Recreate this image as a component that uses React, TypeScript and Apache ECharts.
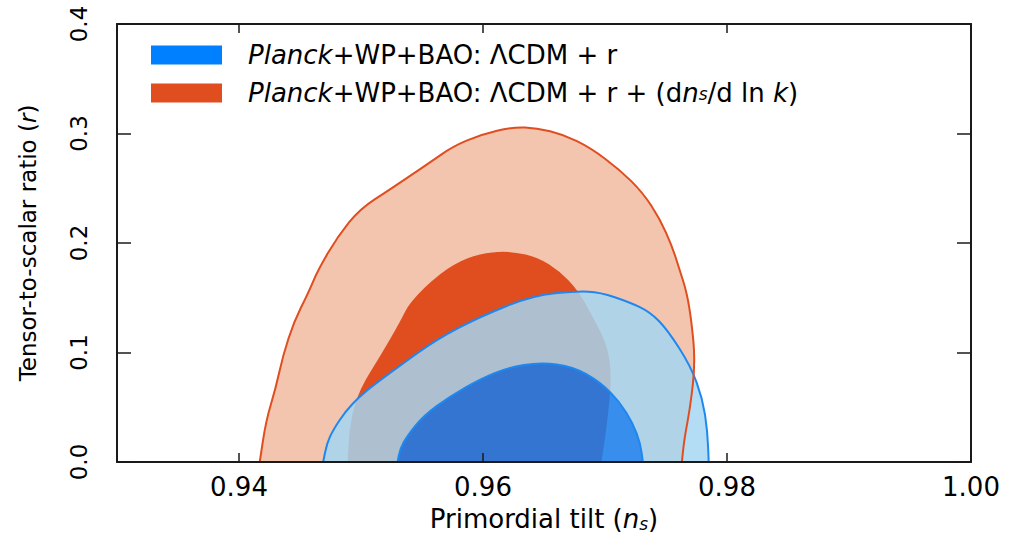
import React, { useEffect, useRef } from 'react';
import * as echarts from 'echarts';

// Axis ticks
const xTicks = [0.94, 0.96, 0.98, 1.0];
const xMin = 0.93;
const xMax = 1.0;
const yMin = 0;
const yMax = 0.4;
const yStep = 0.1;

// Contours [n_s, r]
const orange95: [number, number][] = [
  [0.9417, 0.0], [0.9422, 0.037], [0.943, 0.067], [0.9436, 0.097], [0.9445, 0.128],
  [0.9457, 0.155], [0.9465, 0.176], [0.9481, 0.206], [0.9499, 0.231], [0.9524, 0.249],
  [0.9557, 0.274], [0.9575, 0.288], [0.9598, 0.299], [0.9625, 0.306], [0.9644, 0.305],
  [0.9666, 0.299], [0.9688, 0.287], [0.9712, 0.267], [0.9731, 0.246], [0.9745, 0.222],
  [0.9755, 0.197], [0.9761, 0.176], [0.9767, 0.155], [0.9771, 0.128], [0.9774, 0.091],
  [0.977, 0.051], [0.9765, 0.021], [0.9763, 0.0],
];

const orange68: [number, number][] = [
  [0.9489, 0.0], [0.9491, 0.037], [0.9499, 0.067], [0.9516, 0.097], [0.9532, 0.128],
  [0.954, 0.146], [0.9565, 0.173], [0.9587, 0.187], [0.9608, 0.192], [0.9625, 0.192],
  [0.9645, 0.187], [0.9663, 0.174], [0.9677, 0.158], [0.969, 0.133], [0.9702, 0.106],
  [0.9705, 0.082], [0.9704, 0.058], [0.97, 0.021], [0.9697, 0.0],
];

const blue95: [number, number][] = [
  [0.9469, 0.0], [0.9472, 0.017], [0.9477, 0.029], [0.9487, 0.046], [0.9499, 0.06],
  [0.9509, 0.069], [0.9532, 0.088], [0.9562, 0.112], [0.9598, 0.133], [0.9641, 0.152],
  [0.9677, 0.156], [0.9696, 0.155], [0.972, 0.146], [0.9737, 0.137], [0.9751, 0.121],
  [0.977, 0.088], [0.978, 0.058], [0.9784, 0.028], [0.9785, 0.0],
];

const blue68: [number, number][] = [
  [0.953, 0.0], [0.9532, 0.012], [0.9538, 0.024], [0.9551, 0.042], [0.9573, 0.06],
  [0.9598, 0.076], [0.962, 0.086], [0.9647, 0.091], [0.9674, 0.087], [0.9696, 0.073],
  [0.9712, 0.055], [0.9723, 0.035], [0.9729, 0.017], [0.9731, 0.0],
];

const BLUE_NAME = 'Planck+WP+BAO: ΛCDM + r';
const ORANGE_NAME = 'Planck+WP+BAO: ΛCDM + r + (dns/d ln k)';

const FONT = 'DejaVu Sans';
const FRAME = '#1a1a1a';

function signedArea(pts: number[][]) {
  let a = 0;
  for (let i = 0; i < pts.length; i++) {
    const p = pts[i];
    const q = pts[(i + 1) % pts.length];
    a += p[0] * q[1] - q[0] * p[1];
  }
  return a;
}

const f = (n: number) => n.toFixed(2);

// Rendering-only corner smoothing (quadratic curves through segment midpoints)
function smoothPath(pix: number[][], close: boolean) {
  const n = pix.length;
  if (n < 3) return 'M' + pix.map((c) => f(c[0]) + ' ' + f(c[1])).join(' L') + (close ? ' Z' : '');
  const mid = (a: number[], b: number[]) => [(a[0] + b[0]) / 2, (a[1] + b[1]) / 2];
  let d = 'M' + f(pix[0][0]) + ' ' + f(pix[0][1]);
  const m0 = mid(pix[0], pix[1]);
  d += ' L' + f(m0[0]) + ' ' + f(m0[1]);
  for (let i = 1; i < n - 1; i++) {
    const m = mid(pix[i], pix[i + 1]);
    d += ' Q' + f(pix[i][0]) + ' ' + f(pix[i][1]) + ' ' + f(m[0]) + ' ' + f(m[1]);
  }
  d += ' L' + f(pix[n - 1][0]) + ' ' + f(pix[n - 1][1]);
  return d + (close ? ' Z' : '');
}

type Layer = { outer: [number, number][]; hole?: [number, number][]; fill?: string; stroke?: string };

function makeRender(layers: Layer[]) {
  return (params: any, api: any) => {
    const layer = layers[params.dataIndex];
    const outerPix = layer.outer.map((p) => api.coord(p));
    if (layer.stroke) {
      return {
        type: 'path',
        shape: { pathData: smoothPath(outerPix, false) },
        style: { stroke: layer.stroke, lineWidth: 2, fill: 'none' },
        silent: true,
      };
    }
    let d = smoothPath(outerPix, true);
    if (layer.hole) {
      let holePix = layer.hole.map((p) => api.coord(p));
      if (Math.sign(signedArea(holePix)) === Math.sign(signedArea(outerPix))) {
        holePix = holePix.slice().reverse();
      }
      d += ' ' + smoothPath(holePix, true);
    }
    return {
      type: 'path',
      shape: { pathData: d },
      style: { fill: layer.fill, stroke: null },
      silent: true,
    };
  };
}

const orangeLayers: Layer[] = [
  { outer: orange95, fill: '#F3C5AF' },
  { outer: orange68, fill: '#E04E1F' },
];
const blueLayers: Layer[] = [
  { outer: blue95, hole: blue68, fill: 'rgba(163,214,243,0.83)' },
  { outer: blue68, fill: 'rgba(8,127,252,0.8)' },
];
const lineLayers: Layer[] = [
  { outer: blue95, stroke: '#1E88F0' },
  { outer: blue68, stroke: '#1E88F0' },
  { outer: orange95, stroke: '#E04E1F' },
];

const subRich = {
  i: { fontStyle: 'italic', fontFamily: FONT },
  sub: { fontSize: 17, fontStyle: 'italic', fontFamily: FONT, lineHeight: 8, verticalAlign: 'bottom' },
};

function xAxisBase(position: string, labels: boolean) {
  return {
    type: 'value',
    min: xMin,
    max: xMax,
    position,
    z: 10,
    axisLine: { show: true, onZero: false, lineStyle: { color: FRAME, width: 2 } },
    axisTick: { show: true, inside: true, length: 9, customValues: xTicks, lineStyle: { color: FRAME, width: 1.5 } },
    axisLabel: {
      show: labels,
      customValues: xTicks,
      formatter: (v: number) => v.toFixed(2),
      fontSize: 26,
      fontFamily: FONT,
      color: '#000',
      margin: 12,
    },
    splitLine: { show: false },
  };
}

function yAxisBase(position: string, labels: boolean) {
  return {
    type: 'value',
    min: yMin,
    max: yMax,
    interval: yStep,
    position,
    z: 10,
    axisLine: { show: true, onZero: false, lineStyle: { color: FRAME, width: 2 } },
    axisTick: { show: true, inside: true, length: 14, lineStyle: { color: FRAME, width: 1.5 } },
    axisLabel: {
      show: labels,
      rotate: 90,
      formatter: (v: number) => v.toFixed(1),
      fontSize: 23,
      fontFamily: FONT,
      color: '#000',
      margin: 27,
    },
    splitLine: { show: false },
  };
}

export default function App() {
  const ref = useRef<HTMLDivElement>(null);
  useEffect(() => {
    if (!ref.current) return;
    const chart = echarts.init(ref.current, null, { renderer: 'svg' });
    const option: any = {
      animation: false,
      backgroundColor: '#ffffff',
      grid: { left: 117, right: 38, top: 24, bottom: 74 },
      legend: {
        show: true,
        orient: 'vertical',
        left: 146,
        top: 37,
        itemWidth: 71,
        itemHeight: 19,
        itemGap: 12,
        icon: 'rect',
        selectedMode: false,
        data: [BLUE_NAME, ORANGE_NAME],
        formatter: (name: string) =>
          name === BLUE_NAME
            ? '{g| }{i|Planck}+WP+BAO: ΛCDM + r'
            : '{g| }{i|Planck}+WP+BAO: ΛCDM + r + (d{i|n}{sub|s}/d ln {i|k})',
        textStyle: {
          fontSize: 26,
          fontFamily: FONT,
          color: '#000',
          lineHeight: 19,
          rich: {
            g: { width: 21, lineHeight: 19 },
            i: { fontStyle: 'italic', fontSize: 26, fontFamily: FONT, lineHeight: 19 },
            sub: { fontSize: 17, fontStyle: 'italic', fontFamily: FONT, lineHeight: 1, verticalAlign: 'bottom' },
          },
        },
      },
      xAxis: [
        {
          ...xAxisBase('bottom', true),
          name: 'Primordial tilt ({i|n}{sub|s})',
          nameLocation: 'middle',
          nameGap: 44,
          nameTextStyle: { fontSize: 26, fontFamily: FONT, color: '#000', rich: subRich },
        },
        xAxisBase('top', false),
      ],
      yAxis: [
        {
          ...yAxisBase('left', true),
          name: 'Tensor-to-scalar ratio ({i|r})',
          nameLocation: 'middle',
          nameGap: 78,
          nameTextStyle: { fontSize: 23, fontFamily: FONT, color: '#000', rich: { i: { fontStyle: 'italic', fontSize: 23, fontFamily: FONT } } },
        },
        yAxisBase('right', false),
      ],
      series: [
        {
          name: ORANGE_NAME,
          type: 'custom',
          coordinateSystem: 'cartesian2d',
          xAxisIndex: 0,
          yAxisIndex: 0,
          itemStyle: { color: '#E04E1F' },
          renderItem: makeRender(orangeLayers),
          data: orangeLayers.map((_, i) => [i]),
          z: 1,
        },
        {
          name: BLUE_NAME,
          type: 'custom',
          coordinateSystem: 'cartesian2d',
          xAxisIndex: 0,
          yAxisIndex: 0,
          itemStyle: { color: '#0080FF' },
          renderItem: makeRender(blueLayers),
          data: blueLayers.map((_, i) => [i]),
          z: 2,
        },
        {
          name: 'outlines',
          type: 'custom',
          coordinateSystem: 'cartesian2d',
          xAxisIndex: 0,
          yAxisIndex: 0,
          renderItem: makeRender(lineLayers),
          data: lineLayers.map((_, i) => [i]),
          z: 3,
        },
      ],
    };
    chart.setOption(option);
    return () => chart.dispose();
  }, []);
  return (
    <div
      ref={ref}
      style={{ position: 'absolute', left: 0, top: 0, width: 1009, height: 537, background: '#fff' }}
    />
  );
}
